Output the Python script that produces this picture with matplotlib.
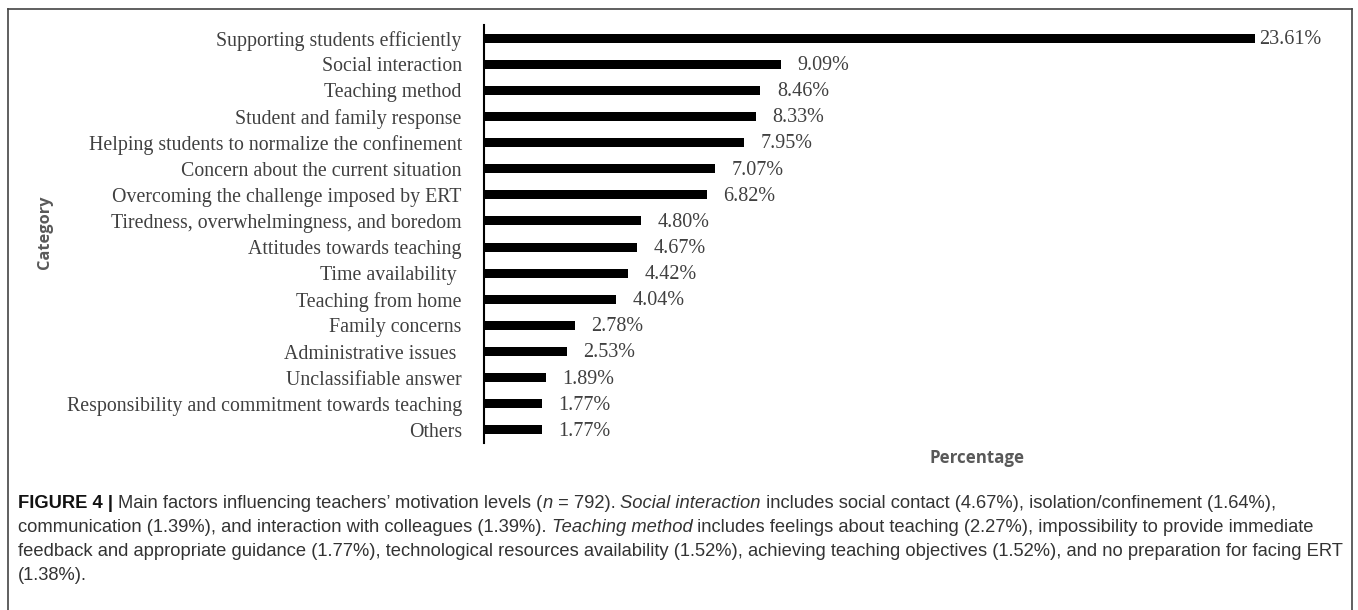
import matplotlib.pyplot as plt
from matplotlib.lines import Line2D

categories = [
    "Supporting students efficiently",
    "Social interaction",
    "Teaching method",
    "Student and family response",
    "Helping students to normalize the confinement",
    "Concern about the current situation",
    "Overcoming the challenge imposed by ERT",
    "Tiredness, overwhelmingness, and boredom",
    "Attitudes towards teaching",
    "Time availability ",
    "Teaching from home",
    "Family concerns",
    "Administrative issues ",
    "Unclassifiable answer",
    "Responsibility and commitment towards teaching",
    "Others",
]
percent = [23.61, 9.09, 8.46, 8.33, 7.95, 7.07, 6.82, 4.80, 4.67, 4.42, 4.04, 2.78, 2.53, 1.89, 1.77, 1.77]

caption_lines = [
    [("FIGURE 4 | ", "bold", "normal"),
     ("Main factors influencing teachers\u2019 motivation levels (", "normal", "normal"),
     ("n", "normal", "italic"),
     (" = 792). ", "normal", "normal"),
     ("Social interaction", "normal", "italic"),
     (" includes social contact (4.67%), isolation/confinement (1.64%),", "normal", "normal")],
    [("communication (1.39%), and interaction with colleagues (1.39%). ", "normal", "normal"),
     ("Teaching method", "normal", "italic"),
     (" includes feelings about teaching (2.27%), impossibility to provide immediate", "normal", "normal")],
    [("feedback and appropriate guidance (1.77%), technological resources availability (1.52%), "
      "achieving teaching objectives (1.52%), and no preparation for facing ERT", "normal", "normal")],
    [("(1.38%).", "normal", "normal")],
]

W, H = 1358, 610
fig = plt.figure(figsize=(W / 100, H / 100), dpi=100)
ax = fig.add_axes([484 / W, 1 - 443 / H, 856 / W, 418 / H])

serif = "Liberation Serif"
y = list(range(len(categories)))
ax.barh(y, percent, height=0.34, color="black")
ax.set_ylim(len(categories) - 0.5, -0.5)
ax.set_xlim(0, 856 / 32.66)
ax.set_yticks(y)
ax.set_yticklabels(categories, fontfamily=serif, fontsize=14.3, color="#404040")
ax.tick_params(axis="y", length=0, pad=16)
ax.set_xticks([])
for s in ["top", "right", "bottom"]:
    ax.spines[s].set_visible(False)
ax.spines["left"].set_linewidth(1.5)

vmax = max(percent)
for yi, v in zip(y, percent):
    pad = 3 if v == vmax else 12
    ax.annotate(f"{v:.2f}%", (v, yi), xytext=(pad, -1), textcoords="offset points",
                va="center", ha="left", fontfamily=serif, fontsize=14.5, color="#404040")

fig.text(45 / W, 1 - 232 / H, "Category", rotation=90, ha="center", va="center",
         fontfamily="Open Sans", fontweight="bold", fontsize=11.8, color="#595959")
fig.text(977 / W, 1 - 458 / H, "Percentage", ha="center", va="center",
         fontfamily="Open Sans", fontweight="bold", fontsize=12.2, color="#595959")

# frame around the chart (open at the bottom)
frame = dict(color="#444444", linewidth=1.2, transform=fig.transFigure)
fig.add_artist(Line2D([8 / W, 8 / W], [0, 1 - 9 / H], **frame))
fig.add_artist(Line2D([8 / W, 1352 / W], [1 - 9 / H, 1 - 9 / H], **frame))
fig.add_artist(Line2D([1352 / W, 1352 / W], [0, 1 - 9 / H], **frame))

# caption, drawn piece by piece
fig.canvas.draw()
renderer = fig.canvas.get_renderer()
line_y = [508, 532, 556, 580]
for pieces, ly in zip(caption_lines, line_y):
    x = 18
    for text, weight, style in pieces:
        t = fig.text(x / W, 1 - ly / H, text, ha="left", va="baseline",
                     fontfamily="Liberation Sans", fontsize=13.2, fontweight=weight,
                     fontstyle=style, color="#111111" if weight == "bold" else "#333333")
        x += t.get_window_extent(renderer).width

fig.savefig("out.png", dpi=100)
